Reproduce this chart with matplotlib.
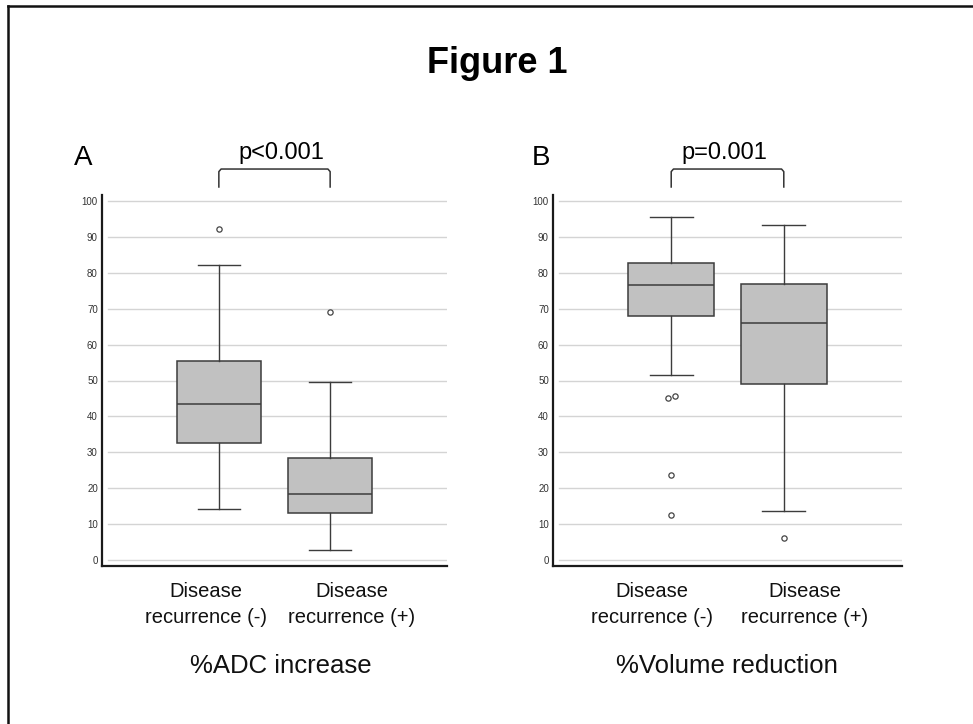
import matplotlib.pyplot as plt
from matplotlib.lines import Line2D

plt.rcParams['font.family'] = ['Liberation Sans', 'DejaVu Sans']

# values
groups = ['Disease\nrecurrence (-)', 'Disease\nrecurrence (+)']

adc_q1 = [32.7, 13.2]
adc_med = [43.5, 18.3]
adc_q3 = [55.3, 28.4]
adc_lo = [14.2, 2.8]
adc_hi = [82.3, 49.6]
adc_out = [[92.1], [69.1]]

vol_q1 = [68.1, 49.0]
vol_med = [76.5, 66.0]
vol_q3 = [82.8, 76.9]
vol_lo = [51.6, 13.5]
vol_hi = [95.7, 93.2]
vol_out = [[45.0, 45.8, 23.6, 12.5], [6.0]]

yticks = [0, 10, 20, 30, 40, 50, 60, 70, 80, 90, 100]

W, H = 973, 724
fig = plt.figure(figsize=(W / 100, H / 100), dpi=100)


def fx(px):
    return px / W


def fy(py):
    return 1 - py / H


def box_panel(rect, q1, med, q3, lo, hi, outs):
    ax = fig.add_axes(rect)
    stats = []
    for i in range(len(q1)):
        stats.append(dict(q1=q1[i], med=med[i], q3=q3[i], whislo=lo[i], whishi=hi[i], fliers=[]))
    lc = '#3c3c3c'
    ax.bxp(stats, positions=[1, 2], widths=0.76, patch_artist=True, showfliers=False,
           boxprops=dict(facecolor='#c1c1c1', edgecolor=lc, linewidth=1.1),
           medianprops=dict(color=lc, linewidth=1.1),
           whiskerprops=dict(color=lc, linewidth=1.0),
           capprops=dict(color=lc, linewidth=1.0), capwidths=0.38, zorder=3)
    # outliers, nudged sideways when two are almost on top of each other
    for i, vals in enumerate(outs):
        vals = sorted(vals)
        xs = [i + 1.0] * len(vals)
        for k in range(1, len(vals)):
            if vals[k] - vals[k - 1] < 1.5:
                xs[k - 1] -= 0.03
                xs[k] += 0.03
        ax.plot(xs, vals, 'o', mfc='white', mec='#444444', ms=3.8, mew=0.9, zorder=4)
    ax.set_xlim(-0.05, 3.05)
    ax.set_ylim(-1.7, 101.7)
    for t in yticks:
        ax.axhline(t, xmin=0.018, xmax=1, color='#d4d4d4', lw=1.0, zorder=1)
    ax.set_yticks(yticks)
    ax.set_xticks([])
    ax.tick_params(axis='y', length=0, pad=3, labelsize=7, labelcolor='#333333')
    for s in ['top', 'right']:
        ax.spines[s].set_visible(False)
    for s in ['left', 'bottom']:
        ax.spines[s].set_linewidth(1.6)
        ax.spines[s].set_color('#1a1a1a')
    return ax


def bracket(ax, text):
    tr = ax.get_xaxis_transform()
    y0, y1 = 1.0216, 1.070
    xs = [1, 1, 1.02, 1.98, 2, 2]
    ys = [y0, y1 - 0.007, y1, y1, y1 - 0.007, y0]
    ax.add_line(Line2D(xs, ys, transform=tr, color='#333333', lw=1.1, clip_on=False))


axA = box_panel([fx(102), fy(566), fx(447) - fx(102), fy(195) - fy(566)],
                adc_q1, adc_med, adc_q3, adc_lo, adc_hi, adc_out)
axB = box_panel([fx(553), fy(566), fx(902) - fx(553), fy(195) - fy(566)],
                vol_q1, vol_med, vol_q3, vol_lo, vol_hi, vol_out)
bracket(axA, 'p<0.001')
bracket(axB, 'p=0.001')

# texts
fig.text(fx(497), fy(73), 'Figure 1', ha='center', va='baseline', fontsize=26, fontweight='bold')
fig.text(fx(74), fy(165), 'A', ha='left', va='baseline', fontsize=20)
fig.text(fx(532), fy(165), 'B', ha='left', va='baseline', fontsize=20)
fig.text(fx(281), fy(159), 'p<0.001', ha='center', va='baseline', fontsize=17)
fig.text(fx(724), fy(159), 'p=0.001', ha='center', va='baseline', fontsize=17)

label_x = [[206, 352], [652, 805]]
for xs in label_x:
    for x, g in zip(xs, groups):
        l1, l2 = g.split('\n')
        fig.text(fx(x), fy(597), l1, ha='center', va='baseline', fontsize=14.5, color='#111111')
        fig.text(fx(x), fy(623), l2, ha='center', va='baseline', fontsize=14.5, color='#111111')

fig.text(fx(281), fy(673), '%ADC increase', ha='center', va='baseline', fontsize=18.5, color='#111111')
fig.text(fx(727), fy(673), '%Volume reduction', ha='center', va='baseline', fontsize=18.5, color='#111111')

# outer frame (left and top edges visible)
fig.add_artist(Line2D([fx(8), fx(8)], [0, fy(6)], color='#111111', lw=1.8))
fig.add_artist(Line2D([fx(8), 1], [fy(6), fy(6)], color='#111111', lw=1.8))

fig.savefig('out.png', dpi=100)
